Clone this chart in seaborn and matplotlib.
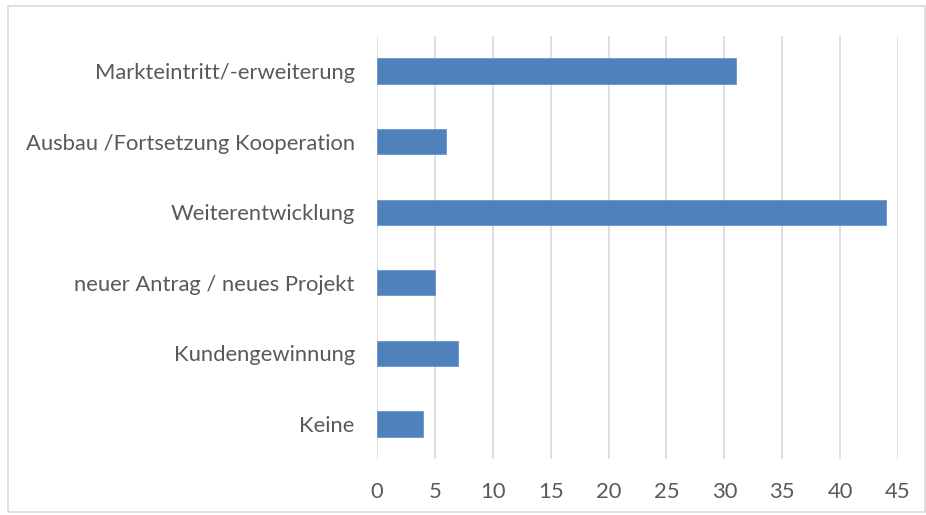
import matplotlib
matplotlib.use("Agg")
import matplotlib.pyplot as plt
import seaborn as sns
import pandas as pd
from matplotlib.patches import Rectangle

categories = ["Markteintritt/-erweiterung", "Ausbau /Fortsetzung Kooperation",
              "Weiterentwicklung", "neuer Antrag / neues Projekt",
              "Kundengewinnung", "Keine"]
values = [31, 6, 44, 5, 7, 4]
xticks = list(range(0, 50, 5))

df = pd.DataFrame({"cat": categories, "val": values})

sns.set_theme(style="white")
plt.rcParams['font.family'] = ['Lato', 'DejaVu Sans']

fig = plt.figure(figsize=(9.26, 5.15), dpi=100)
ax = fig.add_axes([377/926, 1-459.3/515, (898-377)/926, (459.3-35.7)/515])

sns.barplot(data=df, x="val", y="cat", orient="h", color="#4F81BD",
            width=0.355, saturation=1, ax=ax, edgecolor="#6A95C8", linewidth=0.6, zorder=3)

ax.set_xlim(0, 45)
ax.set_xticks(xticks)
ax.set_xlabel("")
ax.set_ylabel("")
ax.grid(axis="x", color="#D9D9D9", linewidth=1.2, zorder=0)
ax.set_axisbelow(True)
for s in ax.spines.values():
    s.set_visible(False)
ax.tick_params(axis="x", length=0, pad=16, labelsize=15.8, labelcolor="#595959")
ax.tick_params(axis="y", length=0, pad=16, labelsize=15.8, labelcolor="#595959")

fig.patches.append(Rectangle((7.5/926, 1-512/515), (925-7.5)/926, (512-6)/515,
                             transform=fig.transFigure, fill=False,
                             edgecolor="#D9D9D9", linewidth=1.2))

fig.savefig("out.png", dpi=100)
